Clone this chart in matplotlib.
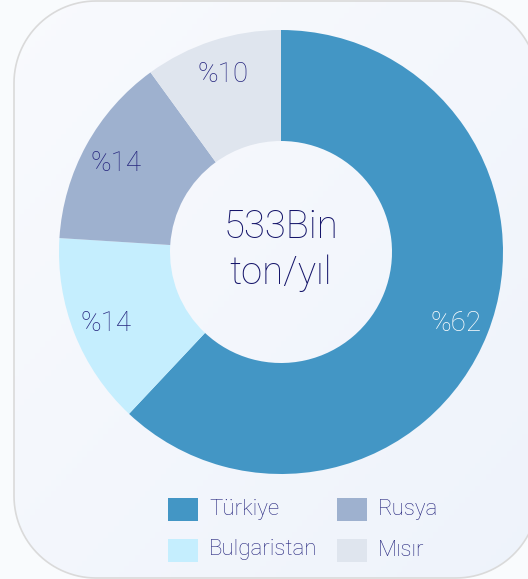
import numpy as np
import matplotlib.pyplot as plt
from matplotlib.patches import PathPatch, Rectangle
from matplotlib.path import Path

# veri
ulkeler = ['Türkiye', 'Bulgaristan', 'Rusya', 'Mısır']
paylar = [62, 14, 14, 10]
renkler = ['#4396c5', '#c5eefe', '#9eb1cf', '#dfe5ee']
etiket_renk = ['white', '#27277f', '#27277f', '#27277f']
toplam = '533Bin\nton/yıl'

W, H = 528, 579
plt.rcParams['font.family'] = ['Roboto', 'DejaVu Sans']

fig = plt.figure(figsize=(W / 100, H / 100), dpi=100)
fig.patch.set_facecolor('#f9fbfd')
ax = fig.add_axes([0, 0, 1, 1])


def yuvarlak_kutu(x0, y0, x1, y1, r):
    # koseleri yuvarlatilmis dikdortgen yolu
    pts = []
    for (kx, ky, a0) in [(x1 - r, y0 + r, -90), (x1 - r, y1 - r, 0),
                         (x0 + r, y1 - r, 90), (x0 + r, y0 + r, 180)]:
        a = np.deg2rad(np.linspace(a0, a0 + 90, 30))
        pts += list(zip(kx + r * np.cos(a), ky + r * np.sin(a)))
    pts.append(pts[0])
    return Path(pts)


yol = yuvarlak_kutu(14, 1, 538, 578, 82)
kart = PathPatch(yol, facecolor='none', edgecolor='#dadada', linewidth=1.2, zorder=2)
ax.add_patch(kart)

# kart arka plani (hafif gradyan)
gx, gy = np.meshgrid(np.linspace(0, 1, 100), np.linspace(0, 1, 100))
t = (gx + gy) / 2
c1 = np.array([0.975, 0.982, 0.994])
c2 = np.array([0.935, 0.953, 0.985])
img = c1 + (c2 - c1) * t[..., None]
im = ax.imshow(img, extent=(14, 538, 1, 578), origin='upper', zorder=1, aspect='auto')
im.set_clip_path(kart)

# pasta
cx, cy, R = 281, H - 252, 222
ax.pie(paylar, colors=renkler, startangle=90, counterclock=False,
       center=(cx, cy), radius=R, frame=True,
       wedgeprops=dict(width=R * 0.5, linewidth=0), normalize=True)

# yuzde etiketleri
bas = 90.0
for p, renk in zip(paylar, etiket_renk):
    orta = np.deg2rad(bas - p * 3.6 / 2)
    bas -= p * 3.6
    ax.text(cx + 0.85 * R * np.cos(orta), cy + 0.85 * R * np.sin(orta) - 2, f'%{p}',
            ha='center', va='center', fontsize=20, color=renk, fontweight='light', zorder=5)

ax.text(cx, cy + 2, toplam, ha='center', va='center', fontsize=27.5, color='#15156a',
        fontweight='light', linespacing=1.3, zorder=5)

# lejant
konumlar = [(168, 509), (168, 550), (337, 509), (337, 550)]
for (x, y), ad, renk in zip(konumlar, ulkeler, renkler):
    ax.add_patch(Rectangle((x, H - y - 11.5), 30, 23, facecolor=renk, edgecolor='none', zorder=5))
    ax.text(x + 41, H - y, ad, ha='left', va='center', fontsize=16, color='#27277f',
            fontweight='light', zorder=5)

ax.set_xlim(0, W)
ax.set_ylim(0, H)
ax.set_aspect('auto')
ax.axis('off')

fig.savefig('out.png', dpi=100)
